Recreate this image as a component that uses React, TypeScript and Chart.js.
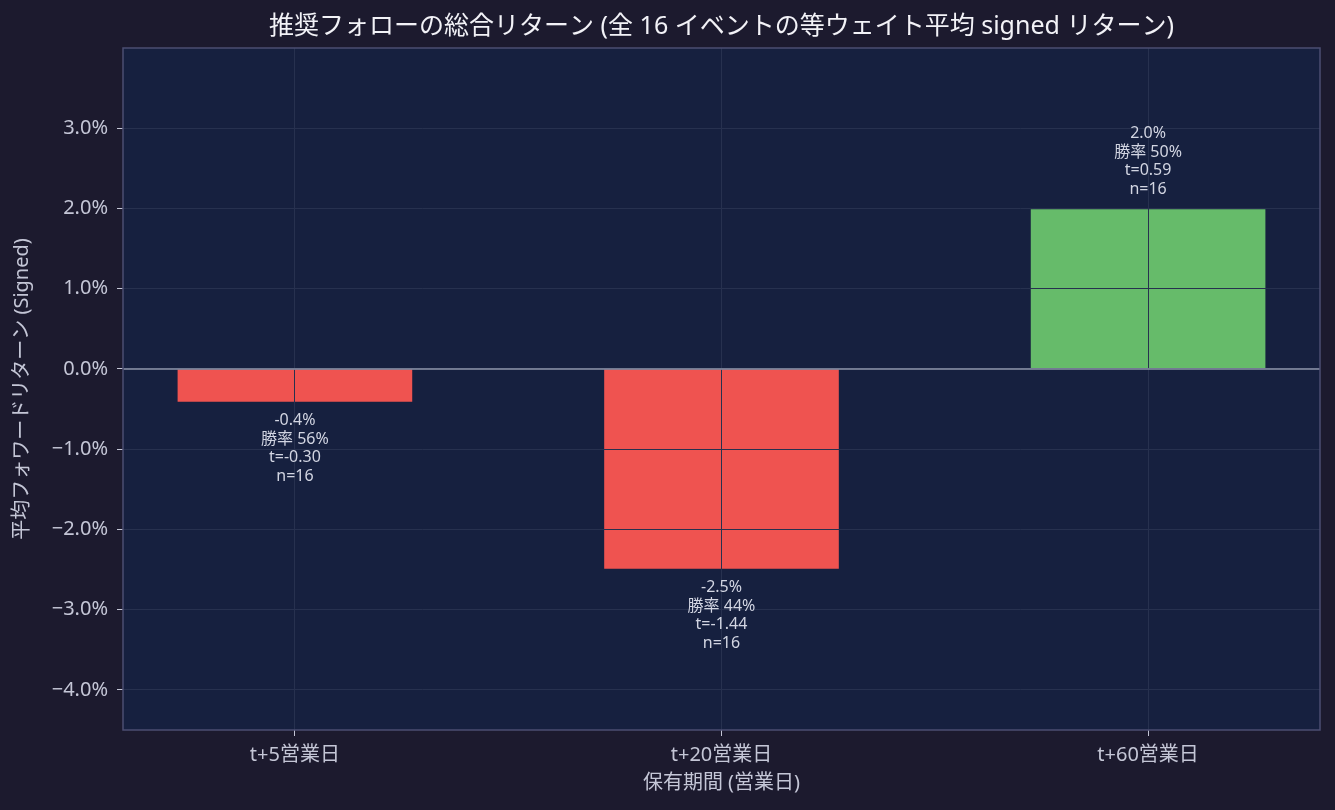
import React, { useEffect, useRef } from "react";
import { Chart, registerables } from "chart.js";

Chart.register(...registerables);

const categories = ["t+5営業日", "t+20営業日", "t+60営業日"];
const meanReturns = [-0.41, -2.49, 1.99];
const meanLabels = ["-0.4%", "-2.5%", "2.0%"];
const winRates = ["勝率 56%", "勝率 44%", "勝率 50%"];
const tStats = ["t=-0.30", "t=-1.44", "t=0.59"];
const counts = ["n=16", "n=16", "n=16"];
const yTicks = [-4, -3, -2, -1, 0, 1, 2, 3];

const FONT = "'Noto Sans', 'Noto Sans CJK JP', sans-serif";
const OUTER_BG = "#1c1a2e";
const PLOT_BG = "#16203f";
const GRID = "#27314f";
const TEXT = "#c4c6d6";

export default function App() {
  const ref = useRef<HTMLCanvasElement>(null);

  useEffect(() => {
    if (!ref.current) return;
    const bgPlugin = {
      id: "bgPlugin",
      beforeDraw(chart: any) {
        const { ctx, chartArea: a } = chart;
        ctx.save();
        ctx.fillStyle = OUTER_BG;
        ctx.fillRect(0, 0, chart.width, chart.height);
        ctx.fillStyle = PLOT_BG;
        ctx.fillRect(a.left, a.top, a.right - a.left, a.bottom - a.top);
        ctx.restore();
      },
      afterDraw(chart: any) {
        const { ctx, chartArea: a } = chart;
        const y0 = chart.scales.y.getPixelForValue(0);
        ctx.save();
        ctx.strokeStyle = "#8e94aa";
        ctx.lineWidth = 1.5;
        ctx.beginPath();
        ctx.moveTo(a.left, y0);
        ctx.lineTo(a.right, y0);
        ctx.stroke();
        ctx.strokeStyle = "#4b4d72";
        ctx.lineWidth = 1.5;
        ctx.strokeRect(a.left, a.top, a.right - a.left, a.bottom - a.top);
        // value annotations
        const meta = chart.getDatasetMeta(0);
        ctx.font = `16px ${FONT}`;
        ctx.fillStyle = "#d2d5e2";
        ctx.textAlign = "center";
        ctx.textBaseline = "middle";
        const lh = 18.5;
        meta.data.forEach((bar: any, i: number) => {
          const lines = [meanLabels[i], winRates[i], tStats[i], counts[i]];
          const v = meanReturns[i];
          if (v >= 0) {
            const startY = bar.y - 20 - lh * (lines.length - 1);
            lines.forEach((t, k) => ctx.fillText(t, bar.x, startY + k * lh));
          } else {
            const startY = bar.y + 19;
            lines.forEach((t, k) => ctx.fillText(t, bar.x, startY + k * lh));
          }
        });
        ctx.restore();
      },
    };

    const chart = new Chart(ref.current, {
      type: "bar",
      data: {
        datasets: [
          {
            data: meanReturns.map((v, i) => ({ x: i, y: v })),
            backgroundColor: meanReturns.map((v) => (v >= 0 ? "#66bb6a" : "#ef5350")),
            borderWidth: 0,
            categoryPercentage: 1,
            barPercentage: 0.55,
          },
        ],
      },
      options: {
        animation: false,
        responsive: false,
        maintainAspectRatio: false,
        layout: { padding: { left: 0, right: 15, top: 0, bottom: 0 } },
        plugins: {
          legend: { display: false },
          tooltip: { enabled: false },
          title: {
            display: true,
            fullSize: false,
            text: "推奨フォローの総合リターン (全 16 イベントの等ウェイト平均 signed リターン)",
            color: "#f2f2f7",
            font: { family: FONT, size: 25, weight: "normal" },
            padding: { top: 12, bottom: 6 },
          },
        },
        scales: {
          x: {
            type: "linear",
            min: -0.403,
            max: 2.403,
            offset: false,
            afterBuildTicks: (scale: any) => {
              scale.ticks = categories.map((_, i) => ({ value: i }));
            },
            afterFit: (scale: any) => {
              scale.height = 80;
            },
            ticks: {
              color: TEXT,
              font: { family: FONT, size: 20 },
              padding: 7,
              maxRotation: 0,
              autoSkip: false,
              callback: (v: any) => categories[Math.round(Number(v))] ?? "",
            },
            grid: {
              offset: false,
              color: GRID,
              lineWidth: 1,
              z: 1,
              drawTicks: true,
              tickLength: 6,
              tickColor: "#c4c6d6",
            },
            border: { display: false },
            title: {
              display: true,
              text: "保有期間 (営業日)",
              color: TEXT,
              font: { family: FONT, size: 20 },
              padding: { top: 0, bottom: 15 },
            },
          },
          y: {
            type: "linear",
            min: -4.5,
            max: 4.0,
            afterBuildTicks: (scale: any) => {
              scale.ticks = yTicks.map((v) => ({ value: v }));
            },
            afterFit: (scale: any) => {
              scale.width = 123;
            },
            ticks: {
              color: TEXT,
              font: { family: FONT, size: 20 },
              padding: 9,
              callback: (v: any) => {
                const n = Number(v);
                return (n < 0 ? "\u2212" + Math.abs(n).toFixed(1) : n.toFixed(1)) + "%";
              },
            },
            grid: {
              color: GRID,
              lineWidth: 1,
              z: 1,
              drawTicks: true,
              tickLength: 6,
              tickColor: "#c4c6d6",
            },
            border: { display: false },
            title: {
              display: true,
              text: "平均フォワードリターン (Signed)",
              color: TEXT,
              font: { family: FONT, size: 20 },
              padding: { top: 10, bottom: 0 },
            },
          },
        },
      },
      plugins: [bgPlugin],
    } as any);
    return () => chart.destroy();
  }, []);

  return (
    <div style={{ position: "fixed", left: 0, top: 0, width: 1335, height: 810, background: OUTER_BG }}>
      <canvas ref={ref} width={1335} height={810} style={{ width: 1335, height: 810, display: "block" }} />
    </div>
  );
}
